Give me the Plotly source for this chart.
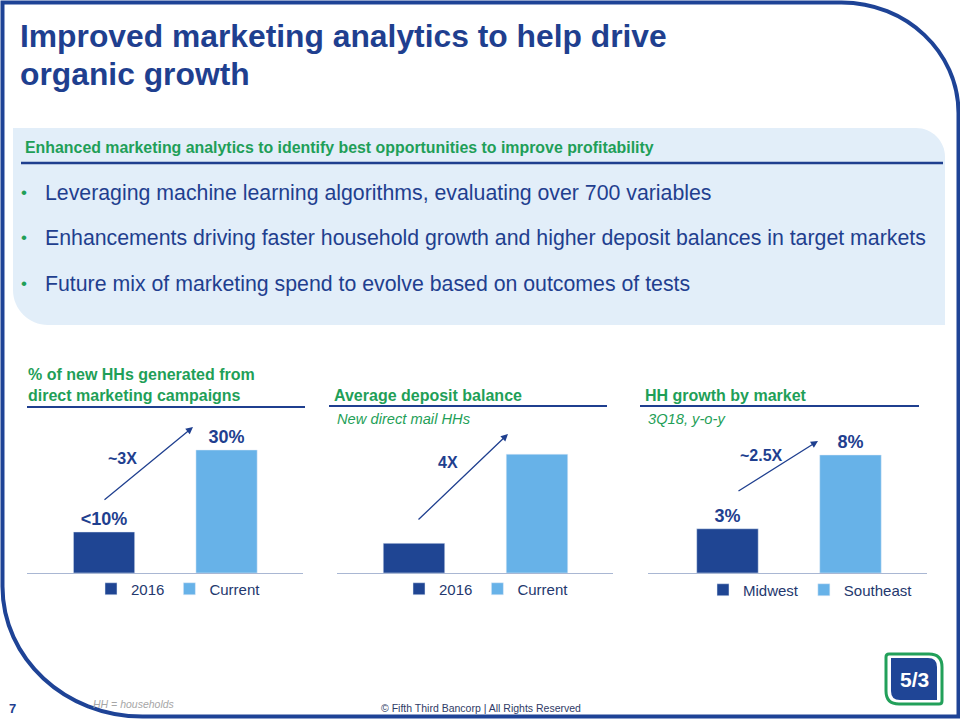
import plotly.graph_objects as go

# ---------------- data ----------------
title_lines = ["Improved marketing analytics to help drive", "organic growth"]
box_header = "Enhanced marketing analytics to identify best opportunities to improve profitability"
bullets = [
    "Leveraging machine learning algorithms, evaluating over 700 variables",
    "Enhancements driving faster household growth and higher deposit balances in target markets",
    "Future mix of marketing spend to evolve based on outcomes of tests",
]

c1_title = ["% of new HHs generated from", "direct marketing campaigns"]
c1_categories = ["2016", "Current"]
c1_values = [10, 30]
c1_labels = ["<10%", "30%"]
c1_multiple = "~3X"

c2_title = "Average deposit balance"
c2_subtitle = "New direct mail HHs"
c2_categories = ["2016", "Current"]
c2_values = [1, 4]
c2_multiple = "4X"

c3_title = "HH growth by market"
c3_subtitle = "3Q18, y-o-y"
c3_categories = ["Midwest", "Southeast"]
c3_values = [3, 8]
c3_labels = ["3%", "8%"]
c3_multiple = "~2.5X"

footnote = "HH = households"
copyright_text = "© Fifth Third Bancorp | All Rights Reserved"
page_number = "7"

# ---------------- styling ----------------
W, H = 960, 720
FONT = "Liberation Sans, Arial, Helvetica, sans-serif"
NAVY = "#1F3F8F"
FRAME = "#1E4396"
GREEN = "#1F9F58"
DARK_BAR = "#1F4593"
LIGHT_BAR = "#67B2E8"
BOX = "#E2EEF9"
AXIS = "#A9B7D3"
LEGEND_TXT = "#24386E"
K = 0.5523


def X(px):
    return px / W


def Y(py):
    return 1 - py / H


def path(cmds):
    out = []
    for c in cmds:
        op = c[0]
        nums = c[1:]
        pts = []
        for i in range(0, len(nums), 2):
            pts.append(f"{X(nums[i]):.5f},{Y(nums[i + 1]):.5f}")
        out.append(op + " " + " ".join(pts))
    return " ".join(out)


fig = go.Figure()

bar_colors = [DARK_BAR, LIGHT_BAR]
label_font = dict(family=FONT, size=18, color=NAVY, weight="bold")


def add_chart(idx, cats, vals, labels):
    ax = "" if idx == 1 else str(idx)
    leg = "legend" if idx == 1 else f"legend{idx}"
    for i, (c, v) in enumerate(zip(cats, vals)):
        kw = {}
        if labels is not None:
            kw = dict(text=[labels[i].replace("<", "&lt;")], textposition="outside",
                      textfont=label_font, cliponaxis=False)
        fig.add_trace(go.Bar(
            x=[c], y=[v], name=c, marker_color=bar_colors[i], width=0.5,
            xaxis="x" + ax, yaxis="y" + ax, legend=leg, hoverinfo="skip", **kw))


add_chart(1, c1_categories, c1_values, c1_labels)
add_chart(2, c2_categories, c2_values, None)
add_chart(3, c3_categories, c3_values, c3_labels)

ydom = [Y(573), Y(420)]
axes = {
    1: dict(xd=[X(27), X(303)], xr=[-0.629, 1.624], yr=[0, 37.3]),
    2: dict(xd=[X(337), X(613)], xr=[-0.626, 1.618], yr=[0, 5.15]),
    3: dict(xd=[X(648), X(927)], xr=[-0.646, 1.622], yr=[0, 10.37]),
}
layout_axes = {}
for i, a in axes.items():
    s = "" if i == 1 else str(i)
    layout_axes["xaxis" + s] = dict(domain=a["xd"], range=a["xr"], type="category",
                                    showticklabels=False, ticks="", showgrid=False,
                                    zeroline=False, showline=True, linecolor=AXIS,
                                    linewidth=1, anchor="y" + s, fixedrange=True)
    layout_axes["yaxis" + s] = dict(domain=ydom, range=a["yr"], visible=False,
                                    showgrid=False, zeroline=False, anchor="x" + s,
                                    fixedrange=True)

legend_base = dict(orientation="h", xanchor="left", yanchor="middle",
                   font=dict(family=FONT, size=15, color=LEGEND_TXT),
                   bgcolor="rgba(0,0,0,0)", borderwidth=0, traceorder="normal")
legends = dict(
    legend=dict(legend_base, x=X(91), y=Y(589)),
    legend2=dict(legend_base, x=X(399), y=Y(589)),
    legend3=dict(legend_base, x=X(703), y=Y(590)),
)

# ---------------- shapes ----------------
shapes = []
# light blue box
r1, r2 = 29, 35
shapes.append(dict(type="path", xref="paper", yref="paper", layer="below",
                   fillcolor=BOX, line=dict(width=0),
                   path=path([("M", 13, 128), ("L", 945 - r1, 128),
                              ("C", 945 - r1 + K * r1, 128, 945, 128 + r1 - K * r1, 945, 128 + r1),
                              ("L", 945, 325), ("L", 13 + r2, 325),
                              ("C", 13 + r2 - K * r2, 325, 13, 325 - r2 + K * r2, 13, 325 - r2),
                              ("Z",)])))
# frame
shapes.append(dict(type="path", xref="paper", yref="paper", line=dict(color=FRAME, width=4),
                   path=path([("M", 2.5, 2.5), ("L", 841.5, 2.5),
                              ("C", 841.5 + K * 117, 2.5, 958.5, 113 - K * 110.5, 958.5, 113),
                              ("L", 958.5, 716.5), ("L", 142.5, 716.5),
                              ("C", 142.5 - K * 140, 716.5, 2.5, 586.5 + K * 130, 2.5, 586.5),
                              ("Z",)])))
# underlines
for (x0, x1, y0, w) in [(21, 943, 163, 2.5), (27, 305, 407, 2), (329, 607, 406, 2), (640, 919, 406, 2)]:
    shapes.append(dict(type="line", xref="paper", yref="paper", x0=X(x0), x1=X(x1),
                       y0=Y(y0), y1=Y(y0), line=dict(color=NAVY, width=w)))
# logo
shapes.append(dict(type="path", xref="paper", yref="paper", fillcolor="white",
                   line=dict(color="#22A05A", width=3),
                   path=path([("M", 886, 657), ("Q", 886, 654, 889, 654), ("L", 929, 654),
                              ("Q", 942, 654, 942, 667), ("L", 942, 701), ("Q", 942, 704, 939, 704),
                              ("L", 899, 704), ("Q", 886, 704, 886, 691), ("Z",)])))
shapes.append(dict(type="path", xref="paper", yref="paper", fillcolor="#1F4596",
                   line=dict(width=0),
                   path=path([("M", 891, 658), ("L", 928, 658), ("Q", 937, 658, 937, 667),
                              ("L", 937, 700), ("L", 900, 700), ("Q", 891, 700, 891, 691),
                              ("Z",)])))

# ---------------- annotations ----------------
ann = []


def text(x, y, s, size, color=NAVY, bold=False, italic=False, anchor="left"):
    ann.append(dict(x=X(x), y=Y(y), xref="paper", yref="paper", text=s, showarrow=False,
                    xanchor=anchor, yanchor="middle", align="left",
                    font=dict(family=FONT, size=size, color=color,
                              weight="bold" if bold else "normal",
                              style="italic" if italic else "normal")))


def arrow(tail, head):
    ann.append(dict(x=X(head[0]), y=Y(head[1]), xref="paper", yref="paper", text="",
                    showarrow=True, axref="pixel", ayref="pixel",
                    ax=tail[0] - head[0], ay=tail[1] - head[1],
                    arrowhead=2, arrowsize=1.1, arrowwidth=1.3, arrowcolor=NAVY))


text(18, 36, title_lines[0], 31.8, bold=True)
text(18, 74, title_lines[1], 31.8, bold=True)
text(23, 148, box_header, 15.9, color=GREEN, bold=True)
for yy, b in zip([193, 238, 284], bullets):
    text(24, yy, "•", 17, color=GREEN, anchor="center")
    text(43, yy, b, 21.3, color=NAVY)

text(26, 384.5, "<br>".join(c1_title), 16, color=GREEN, bold=True)
text(332, 395, c2_title, 16, color=GREEN, bold=True)
text(335, 419, c2_subtitle, 14.7, color=GREEN, italic=True)
text(643, 395, c3_title, 16, color=GREEN, bold=True)
text(646, 419, c3_subtitle, 14.7, color=GREEN, italic=True)

text(122, 458, c1_multiple, 16, bold=True, anchor="center")
text(448, 462, c2_multiple, 16, bold=True, anchor="center")
text(761, 455, c3_multiple, 16, bold=True, anchor="center")
arrow((103, 501), (193, 427))
arrow((417, 521), (508, 434))
arrow((737, 492), (818, 441))

text(12, 708, page_number, 13, bold=True, anchor="center")
text(91, 704, footnote, 10.5, color="#A6A6A6", italic=True)
text(481, 708, copyright_text, 10.5, color="#2F3B66", anchor="center")
text(914, 679, "5/3", 21, color="white", bold=True, anchor="center")

fig.update_layout(
    width=W, height=H, margin=dict(l=0, r=0, t=0, b=0),
    paper_bgcolor="white", plot_bgcolor="rgba(0,0,0,0)",
    barmode="overlay", showlegend=True, hovermode=False,
    shapes=shapes, annotations=ann,
    font=dict(family=FONT),
    **layout_axes, **legends,
)

fig.write_html("out.html", config={"displayModeBar": False, "staticPlot": True},
               post_script="document.body.style.margin='0';document.body.style.overflow='hidden';")
